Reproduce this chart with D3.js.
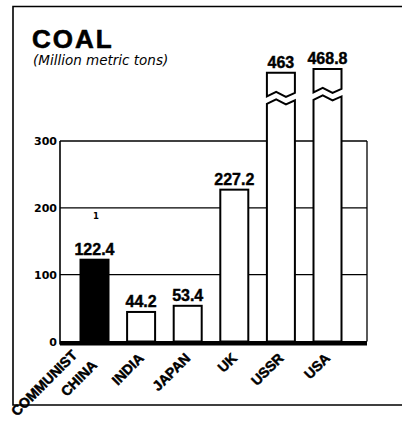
<!DOCTYPE html>
<html><head><meta charset="utf-8">
<script src="https://cdn.jsdelivr.net/npm/d3@7"></script>
<style>html,body{margin:0;padding:0;background:#fff;} svg{display:block;}</style>
</head><body><svg id="c" width="402" height="423"></svg>
<script>
const categories = ["COMMUNIST\nCHINA", "INDIA", "JAPAN", "UK", "USSR", "USA"];
const values = [122.4, 44.2, 53.4, 227.2, 463, 468.8];
const valueLabels = ["122.4", "44.2", "53.4", "227.2", "463", "468.8"];
const yTicks = [0, 100, 200, 300];
const highlighted = ["COMMUNIST\nCHINA"];
const title = "COAL";
const subtitle = "(Million metric tons)";
const footnoteMark = "1";

const svg = d3.select("#c");
svg.append("rect").attr("width", 402).attr("height", 423).attr("fill", "#fff");

const plot = {left: 60, right: 367, top: 141, bottom: 341.5};
const y = d3.scaleLinear().domain([0, d3.max(yTicks)]).range([plot.bottom, plot.top]);
const x = d3.scalePoint().domain(categories).range([94.5, 327.5]);
const barW = 28;
const axisMax = d3.max(yTicks);
const breakShift = 61;   // value units cut out of the broken bars
const upperH = 21.5, gap = 7.5;

// frame
svg.append("path").attr("d", "M402,6.5 H13 V405 H402")
  .attr("fill", "none").attr("stroke", "#000").attr("stroke-width", 1.6);

// titles
svg.append("text").attr("x", 32).attr("y", 48).text(title)
  .attr("font-family", "Liberation Sans, Arial, sans-serif").attr("font-weight", "bold")
  .attr("font-size", 26).attr("letter-spacing", 2)
  .attr("stroke", "#000").attr("stroke-width", 0.6);
svg.append("text").attr("x", 33).attr("y", 64.5).text(subtitle)
  .attr("font-family", "DejaVu Sans, sans-serif").attr("font-style", "italic")
  .attr("font-size", 13.5);

// grid
const g = svg.append("g");
yTicks.filter(t => t > 0).forEach(t => {
  g.append("line").attr("x1", plot.left).attr("x2", plot.right)
    .attr("y1", y(t)).attr("y2", y(t)).attr("stroke", "#000").attr("stroke-width", 1.3);
});
g.append("line").attr("x1", plot.left).attr("x2", plot.left)
  .attr("y1", y(axisMax)).attr("y2", plot.bottom + 3).attr("stroke", "#000").attr("stroke-width", 1.6);
g.append("line").attr("x1", plot.right).attr("x2", plot.right)
  .attr("y1", y(axisMax)).attr("y2", plot.bottom).attr("stroke", "#000").attr("stroke-width", 1.3);

// tick labels
yTicks.forEach(t => {
  svg.append("text").attr("x", 57).attr("y", y(t) + 4).attr("text-anchor", "end")
    .attr("font-family", "DejaVu Sans, sans-serif").attr("font-weight", "bold")
    .attr("font-size", 11).text(t);
});

// small footnote mark
svg.append("text").attr("x", x(categories[0]) + 1.5).attr("y", y(200) + 11)
  .attr("text-anchor", "middle").attr("font-family", "DejaVu Sans, sans-serif")
  .attr("font-weight", "bold").attr("font-size", 8.5).text(footnoteMark);

function zig(x0, w, yb) {
  const pts = [[0, 2], [0.33, -2.5], [0.68, 2.5], [1, -1.5]];
  return pts.map(([f, d]) => [x0 + f * w, yb + d]);
}

// bars
categories.forEach((c, i) => {
  const v = values[i];
  const cx = x(c), x0 = cx - barW / 2, x1 = cx + barW / 2;
  let top;
  if (v <= axisMax) {
    top = y(v);
    svg.append("rect").attr("x", x0).attr("y", top).attr("width", barW)
      .attr("height", plot.bottom - top)
      .attr("fill", highlighted.includes(c) ? "#000" : "#fff")
      .attr("stroke", "#000").attr("stroke-width", 2);
  } else {
    top = y(v - breakShift);
    const zu = zig(x0, barW, top + upperH);
    const upper = [[x0, top], [x1, top]].concat(zu.slice().reverse());
    svg.append("path").attr("d", d3.line()(upper) + "Z")
      .attr("fill", "#fff").attr("stroke", "#000").attr("stroke-width", 2);
    const zl = zig(x0, barW, top + upperH + gap);
    const lower = [[x0, plot.bottom]].concat(zl, [[x1, plot.bottom]]);
    svg.append("path").attr("d", d3.line()(lower) + "Z")
      .attr("fill", "#fff").attr("stroke", "#000").attr("stroke-width", 2);
  }
  svg.append("text").attr("x", cx).attr("y", top - 5).attr("text-anchor", "middle")
    .attr("font-family", "Liberation Sans, Arial, sans-serif").attr("font-weight", "bold")
    .attr("font-size", 16).attr("stroke", "#000").attr("stroke-width", 0.4)
    .text(valueLabels[i]);

  // category labels
  const lines = c.split("\n");
  const n = lines.length;
  const ax = cx + 3.5, ay = 359 + (n - 1) * 7;
  lines.forEach((ln, j) => {
    const k = n - 1 - j;
    svg.append("text")
      .attr("transform", `translate(${ax - 20 * k},${ay - 10 * k}) rotate(-45)`)
      .attr("text-anchor", "end")
      .attr("font-family", "Liberation Sans, Arial, sans-serif").attr("font-weight", "bold")
      .attr("font-size", 14).attr("stroke", "#000").attr("stroke-width", 0.5)
      .text(ln);
  });
});

// thick baseline
svg.append("rect").attr("x", plot.left).attr("y", plot.bottom - 0.5)
  .attr("width", plot.right - plot.left).attr("height", 4.5).attr("fill", "#000");
</script>
</body></html>
